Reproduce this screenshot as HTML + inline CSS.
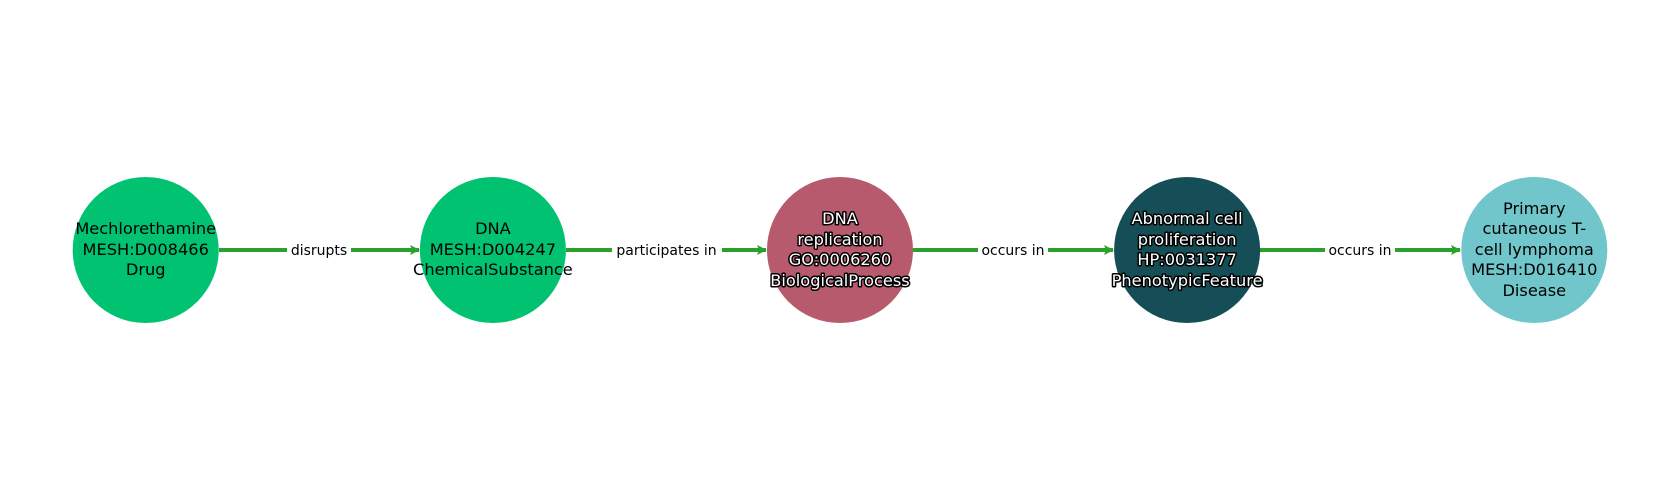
<!DOCTYPE html>
<html><head><meta charset="utf-8"><style>
html,body{margin:0;padding:0;background:#fff;}
svg{display:block;}
text{font-family:"DejaVu Sans","Liberation Sans",sans-serif;}
.n{font-size:16.2px;text-anchor:middle;fill:#000;}
.w{fill:#fff;stroke:#000;stroke-width:3px;paint-order:stroke;stroke-linejoin:round;}
.e{font-size:14px;text-anchor:middle;fill:#000;}
</style></head><body>
<svg width="1680" height="500" viewBox="0 0 1680 500" xmlns="http://www.w3.org/2000/svg">
<defs><marker id="a" markerWidth="12" markerHeight="12" refX="9" refY="6" orient="auto" markerUnits="userSpaceOnUse"><path d="M0,1 L10,6 L0,11 L2,6 Z" fill="#2ca02c"/></marker></defs>
<g stroke="#2ca02c" stroke-width="4" marker-end="url(#a)">
<line x1="219" y1="250" x2="419" y2="250"/>
<line x1="566" y1="250" x2="766" y2="250"/>
<line x1="913" y1="250" x2="1113" y2="250"/>
<line x1="1260" y1="250" x2="1460" y2="250"/>
</g>
<g fill="#fff">
<rect x="287" y="240" width="64" height="20"/>
<rect x="612" y="240" width="110" height="20"/>
<rect x="978" y="240" width="70" height="20"/>
<rect x="1325" y="240" width="70" height="20"/>
</g>
<text class="e" x="319" y="255">disrupts</text>
<text class="e" x="666.5" y="255">participates in</text>
<text class="e" x="1013" y="255">occurs in</text>
<text class="e" x="1360" y="255">occurs in</text>
<circle cx="145.7" cy="250" r="73" fill="#00c271"/>
<circle cx="492.9" cy="250" r="73" fill="#00c271"/>
<circle cx="840" cy="250" r="73" fill="#b75a6e"/>
<circle cx="1187.1" cy="250" r="73" fill="#154e56"/>
<circle cx="1534.3" cy="250" r="73" fill="#71c6cb"/>
<text class="n" x="145.7" y="234">Mechlorethamine</text>
<text class="n" x="145.7" y="255">MESH:D008466</text>
<text class="n" x="145.7" y="275">Drug</text>
<text class="n" x="492.9" y="234">DNA</text>
<text class="n" x="492.9" y="255">MESH:D004247</text>
<text class="n" x="492.9" y="275">ChemicalSubstance</text>
<text class="n w" x="840" y="224">DNA</text>
<text class="n w" x="840" y="245">replication</text>
<text class="n w" x="840" y="265">GO:0006260</text>
<text class="n w" x="840" y="286">BiologicalProcess</text>
<text class="n w" x="1187.1" y="224">Abnormal cell</text>
<text class="n w" x="1187.1" y="245">proliferation</text>
<text class="n w" x="1187.1" y="265">HP:0031377</text>
<text class="n w" x="1187.1" y="286">PhenotypicFeature</text>
<text class="n" x="1534.3" y="214">Primary</text>
<text class="n" x="1534.3" y="234">cutaneous T-</text>
<text class="n" x="1534.3" y="255">cell lymphoma</text>
<text class="n" x="1534.3" y="275">MESH:D016410</text>
<text class="n" x="1534.3" y="296">Disease</text>
</svg>
</body></html>
